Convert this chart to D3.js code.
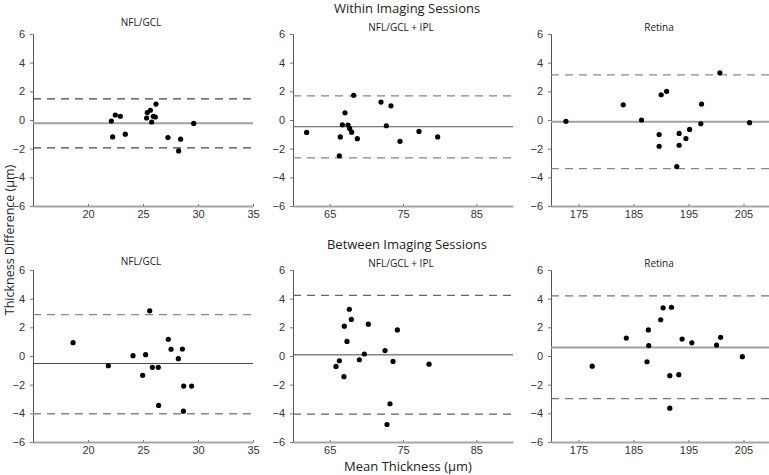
<!DOCTYPE html>
<html><head><meta charset="utf-8">
<script src="https://cdn.jsdelivr.net/npm/d3@7"></script>
<style>
body{margin:0;background:#fff;}
svg{display:block;font-family:"Open Sans","Noto Sans",sans-serif;}
</style></head>
<body>
<svg id="c" width="769" height="475"></svg>
<script>
// ---- data ----
const rowTitles = ["Within Imaging Sessions", "Between Imaging Sessions"];
const panelTitles = ["NFL/GCL", "NFL/GCL + IPL", "Retina"];
const xDomains = [[15, 35], [60, 90], [170, 210]];
const xTicks = [[20, 25, 30, 35], [65, 75, 85], [175, 185, 195, 205]];
const yTicks = [-6, -4, -2, 0, 2, 4, 6];

// Within sessions
const w1x = [22.12,22.24,22.48,22.94,23.39,25.33,25.39,25.67,25.79,25.94,26.12,26.18,27.27,28.42,28.24,29.61];
const w1y = [-0.07,-1.18,0.35,0.26,-0.99,0.14,0.52,0.68,-0.14,0.26,0.21,1.11,-1.22,-1.34,-2.16,-0.24];
const w2x = [61.86,66.45,66.32,66.73,67.09,67.5,67.73,68.0,68.27,68.77,72.0,72.73,73.36,74.59,77.18,79.73];
const w2y = [-0.87,-1.18,-2.5,-0.33,0.5,-0.35,-0.59,-0.85,1.72,-1.3,1.25,-0.4,0.99,-1.49,-0.8,-1.18];
const w3x = [172.72,183.13,186.46,189.66,189.66,190.03,191.02,192.87,193.3,193.3,194.53,195.2,197.24,197.37,200.7,206.1];
const w3y = [-0.09,1.06,0.0,-1.01,-1.84,1.76,2.0,-3.25,-0.94,-1.76,-1.29,-0.66,-0.26,1.11,3.29,-0.19];
// Between sessions
const b1x = [18.64,21.85,24.09,24.97,25.24,25.61,25.85,26.39,26.42,27.3,27.55,28.21,28.58,28.7,28.67,29.42];
const b1y = [0.93,-0.68,0.02,-1.35,0.09,3.15,-0.79,-0.79,-3.45,1.17,0.47,-0.19,0.49,-2.1,-3.85,-2.1];
const b2x = [65.86,66.32,66.95,67.0,67.36,67.68,67.95,69.05,69.73,70.27,72.55,72.82,73.23,73.64,74.23,78.55];
const b2y = [-0.73,-0.33,-1.44,2.08,1.02,3.26,2.55,-0.26,0.14,2.22,0.38,-4.78,-3.33,-0.38,1.82,-0.57];
const b3x = [177.49,183.69,187.46,187.7,187.77,189.95,190.38,191.6,191.9,191.6,193.24,193.84,195.6,200.1,200.84,204.79];
const b3y = [-0.71,1.25,-0.4,1.82,0.73,2.53,3.36,-1.37,3.4,-3.64,-1.3,1.18,0.92,0.76,1.3,-0.05];

// bias and limits of agreement
const withinBias  = [-0.22, -0.47, -0.12];
const withinUpper = [1.47, 1.68, 3.15];
const withinLower = [-1.94, -2.64, -3.39];
const betweenBias  = [-0.52, 0.08, 0.6];
const betweenUpper = [2.88, 4.23, 4.2];
const betweenLower = [-4.03, -4.05, -2.98];

// ---- layout / styles ----
const colX = [[33, 253], [293, 513], [551, 771]];
const rowY = [[34, 206], [270, 442]];
const titleY = [[26, 31, 31], [265, 267, 267]];
const meanStyle = [["#a0a0a0", 2, "#555", 1, "#a0a0a0", 2], ["#444", 1, "#444", 1, "#a0a0a0", 2]];
const dashColor = [["#444", "#888", "#888"], ["#888", "#666", "#777"]];

const panels = [
  [{x:w1x,y:w1y,m:withinBias[0],u:withinUpper[0],l:withinLower[0]},
   {x:w2x,y:w2y,m:withinBias[1],u:withinUpper[1],l:withinLower[1]},
   {x:w3x,y:w3y,m:withinBias[2],u:withinUpper[2],l:withinLower[2]}],
  [{x:b1x,y:b1y,m:betweenBias[0],u:betweenUpper[0],l:betweenLower[0]},
   {x:b2x,y:b2y,m:betweenBias[1],u:betweenUpper[1],l:betweenLower[1]},
   {x:b3x,y:b3y,m:betweenBias[2],u:betweenUpper[2],l:betweenLower[2]}]
];

const svg = d3.select("#c");
const fmt = d => d < 0 ? "\u2212" + Math.abs(d) : String(d);

panels.forEach((row, ri) => {
  row.forEach((p, ci) => {
    const x = d3.scaleLinear().domain(xDomains[ci]).range(colX[ci]);
    const y = d3.scaleLinear().domain([-6, 6]).range([rowY[ri][1], rowY[ri][0]]);
    const g = svg.append("g");

    // y axis
    const ya = g.append("g").attr("transform", `translate(${colX[ci][0]},0)`)
      .call(d3.axisLeft(y).tickValues(yTicks).tickFormat(fmt).tickSize(3).tickPadding(5));
    ya.select(".domain").attr("stroke", "#555").attr("stroke-width", 1);
    ya.selectAll(".tick line").attr("stroke", "#777");
    ya.selectAll("text").attr("fill", "#333").style("font-size", "11px");

    // x axis
    const xa = g.append("g").attr("transform", `translate(0,${rowY[ri][1]})`)
      .call(d3.axisTop(x).tickValues(xTicks[ci]).tickFormat(d3.format("d")).tickSize(2).tickSizeOuter(0));
    xa.select(".domain").attr("stroke", "#a6a6a6").attr("stroke-width", 2);
    xa.selectAll(".tick line").attr("stroke", "#777");
    xa.selectAll("text").attr("fill", "#333").style("font-size", "11px").attr("y", 12);

    // limits of agreement
    [p.u, p.l].forEach(v => {
      g.append("line").attr("x1", colX[ci][0]).attr("x2", colX[ci][1])
        .attr("y1", y(v)).attr("y2", y(v))
        .attr("stroke", dashColor[ri][ci]).attr("stroke-width", 1.3)
        .attr("stroke-dasharray", "8,6");
    });
    // mean
    g.append("line").attr("x1", colX[ci][0]).attr("x2", colX[ci][1])
      .attr("y1", y(p.m)).attr("y2", y(p.m))
      .attr("stroke", meanStyle[ri][ci*2]).attr("stroke-width", meanStyle[ri][ci*2+1]);

    // points
    g.selectAll("circle").data(p.x.map((d, i) => [d, p.y[i]])).enter()
      .append("circle").attr("cx", d => x(d[0])).attr("cy", d => y(d[1]))
      .attr("r", 2.6).attr("fill", "#000");

    // panel title
    g.append("text").attr("x", (colX[ci][0] + colX[ci][1]) / 2 - 2)
      .attr("y", titleY[ri][ci]).attr("text-anchor", "middle")
      .style("font-size", "10px").attr("fill", "#222").text(panelTitles[ci]);
  });
  svg.append("text").attr("x", 407).attr("y", ri === 0 ? 13 : 249)
    .attr("text-anchor", "middle").style("font-size", "13px").attr("fill", "#222")
    .text(rowTitles[ri]);
});

svg.append("text").attr("transform", "translate(14,240) rotate(-90)")
  .attr("text-anchor", "middle").style("font-size", "12.5px").attr("fill", "#222")
  .text("Thickness Difference (\u03bcm)");
svg.append("text").attr("x", 408).attr("y", 471)
  .attr("text-anchor", "middle").style("font-size", "13px").attr("fill", "#222")
  .text("Mean Thickness (\u03bcm)");
</script>
</body></html>
